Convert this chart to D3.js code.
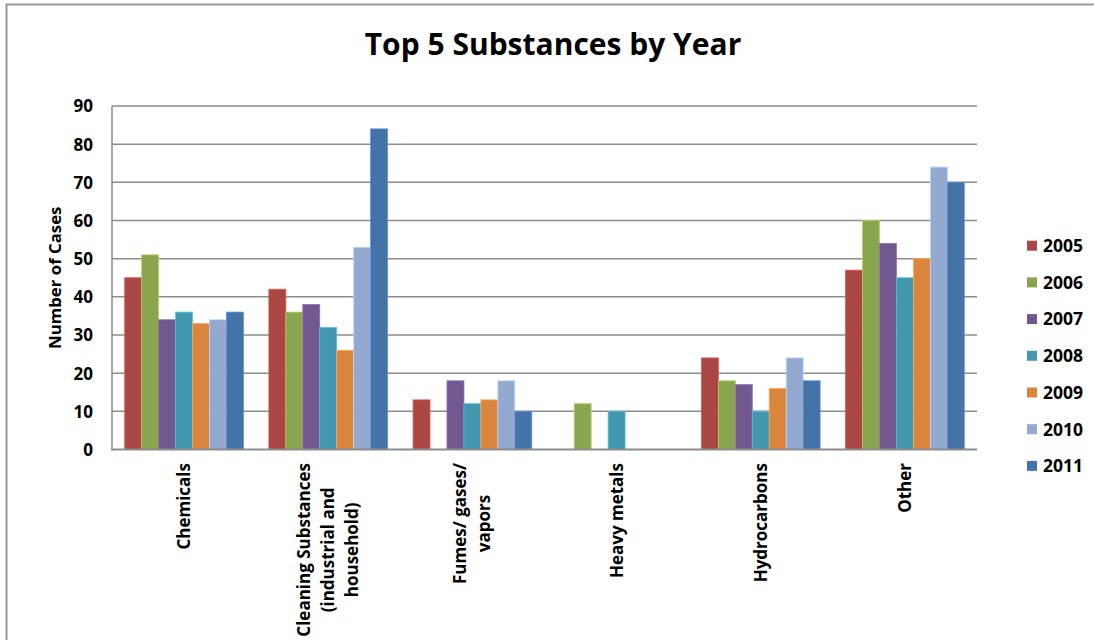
<!DOCTYPE html>
<html lang="en">
<head>
<meta charset="UTF-8">
<title>Top 5 Substances by Year</title>
<script src="https://d3js.org/d3.v7.min.js"></script>
<style>
  body { margin: 0; background: #fff; }
  text { font-family: "Open Sans", Lato, sans-serif; font-weight: bold; fill: #000; }
</style>
</head>
<body>
<script>
// chart data
var categories = ["Chemicals", "Cleaning Substances\n(industrial and\nhousehold)", "Fumes/ gases/\nvapors", "Heavy metals", "Hydrocarbons", "Other"];
var years = ["2005", "2006", "2007", "2008", "2009", "2010", "2011"];
var colors = ["#AA4643", "#89A54E", "#71588F", "#4198AF", "#DB843D", "#93A9CF", "#4572A7"];
var yTicks = [0, 10, 20, 30, 40, 50, 60, 70, 80, 90];
// one array per category, values in year order
var chemicals    = [45, 51, 34, 36, 33, 34, 36];
var cleaning     = [42, 36, 38, 32, 26, 53, 84];
var fumes        = [13, 0, 18, 12, 13, 18, 10];
var heavyMetals  = [0, 12, 0, 10, 0, 0, 0];
var hydrocarbons = [24, 18, 17, 10, 16, 24, 18];
var other        = [47, 60, 54, 45, 50, 74, 70];
var values = [chemicals, cleaning, fumes, heavyMetals, hydrocarbons, other];

var W = 1094, H = 640;
var plot = {left: 112, right: 977, top: 106, bottom: 449.5};

var svg = d3.select("body").append("svg").attr("width", W).attr("height", H);

// outer frame (top and left edges visible)
svg.append("path")
  .attr("d", "M6.5," + H + "V4.5H" + W)
  .attr("fill", "none").attr("stroke", "#9a9a9a").attr("stroke-width", 2);

var x = d3.scaleBand().domain(categories).range([plot.left, plot.right]);
var xi = d3.scaleBand().domain(years).range([0, x.bandwidth()]).paddingOuter(0.75);
var y = d3.scaleLinear().domain([0, 90]).range([plot.bottom, plot.top]);

// gridlines
svg.append("g").selectAll("line").data(yTicks.filter(function(d){ return d > 0; }))
  .enter().append("line")
  .attr("x1", plot.left).attr("x2", plot.right)
  .attr("y1", function(d){ return y(d); }).attr("y2", function(d){ return y(d); })
  .attr("stroke", "#8c8c8c").attr("stroke-width", 1.5);

// bars
var rows = [];
categories.forEach(function(c, i){
  years.forEach(function(yr, j){
    if (values[i][j] > 0) rows.push({cat: c, year: yr, v: values[i][j], color: colors[j]});
  });
});
svg.append("g").selectAll("rect").data(rows).enter().append("rect")
  .attr("x", function(d){ return x(d.cat) + xi(d.year); })
  .attr("y", function(d){ return y(d.v); })
  .attr("width", xi.bandwidth())
  .attr("height", function(d){ return y(0) - y(d.v); })
  .attr("fill", function(d){ return d.color; })
  .attr("stroke", function(d){ return d3.color(d.color).brighter(0.7); })
  .attr("stroke-width", 0.8);

// axes lines
svg.append("line").attr("x1", plot.left).attr("x2", plot.left)
  .attr("y1", plot.top).attr("y2", plot.bottom)
  .attr("stroke", "#8c8c8c").attr("stroke-width", 1.5);
svg.append("line").attr("x1", plot.left - 1).attr("x2", plot.right)
  .attr("y1", plot.bottom).attr("y2", plot.bottom)
  .attr("stroke", "#8c8c8c").attr("stroke-width", 2);

// y tick labels
var yAxis = d3.axisLeft(y).tickValues(yTicks).tickSize(0).tickPadding(19);
var ya = svg.append("g").attr("transform", "translate(" + plot.left + ",0)").call(yAxis);
ya.select(".domain").remove();
ya.selectAll("text").style("font-size", "17px").style("font-family", "'Open Sans', sans-serif").style("font-weight", "bold").attr("dy", "0.35em");

// y axis title
svg.append("text")
  .attr("transform", "translate(61," + ((plot.top + plot.bottom) / 2) + ") rotate(-90)")
  .attr("text-anchor", "middle")
  .style("font-size", "16.8px")
  .text("Number of Cases");

// category labels, rotated, multi-line
var lineH = 24, labelTop = 463, fs = 17;
categories.forEach(function(c){
  var lines = c.split("\n");
  var g = svg.append("g");
  var texts = lines.map(function(l){
    return g.append("text").attr("text-anchor", "middle").style("font-size", fs + "px").text(l);
  });
  var maxLen = d3.max(texts, function(t){ return t.node().getComputedTextLength(); });
  var cx = x(c) + x.bandwidth() / 2;
  texts.forEach(function(t, i){
    var colX = cx + (i - (lines.length - 1) / 2) * lineH + fs * 0.35;
    t.attr("transform", "translate(" + colX + "," + (labelTop + maxLen / 2) + ") rotate(-90)");
  });
});

// title
svg.append("text")
  .attr("x", 553).attr("y", 55)
  .attr("text-anchor", "middle")
  .style("font-size", "30px")
  .text("Top 5 Substances by Year");

// legend
var legend = svg.append("g").selectAll("g").data(years).enter().append("g")
  .attr("transform", function(d, i){ return "translate(1027," + (245.7 + i * 36.7) + ")"; });
legend.append("rect")
  .attr("x", 0).attr("y", -5).attr("width", 10).attr("height", 10)
  .attr("fill", function(d, i){ return colors[i]; });
legend.append("text")
  .attr("x", 16).attr("dy", "0.36em")
  .style("font-size", "17.5px")
  .text(function(d){ return d; });
</script>
</body>
</html>
